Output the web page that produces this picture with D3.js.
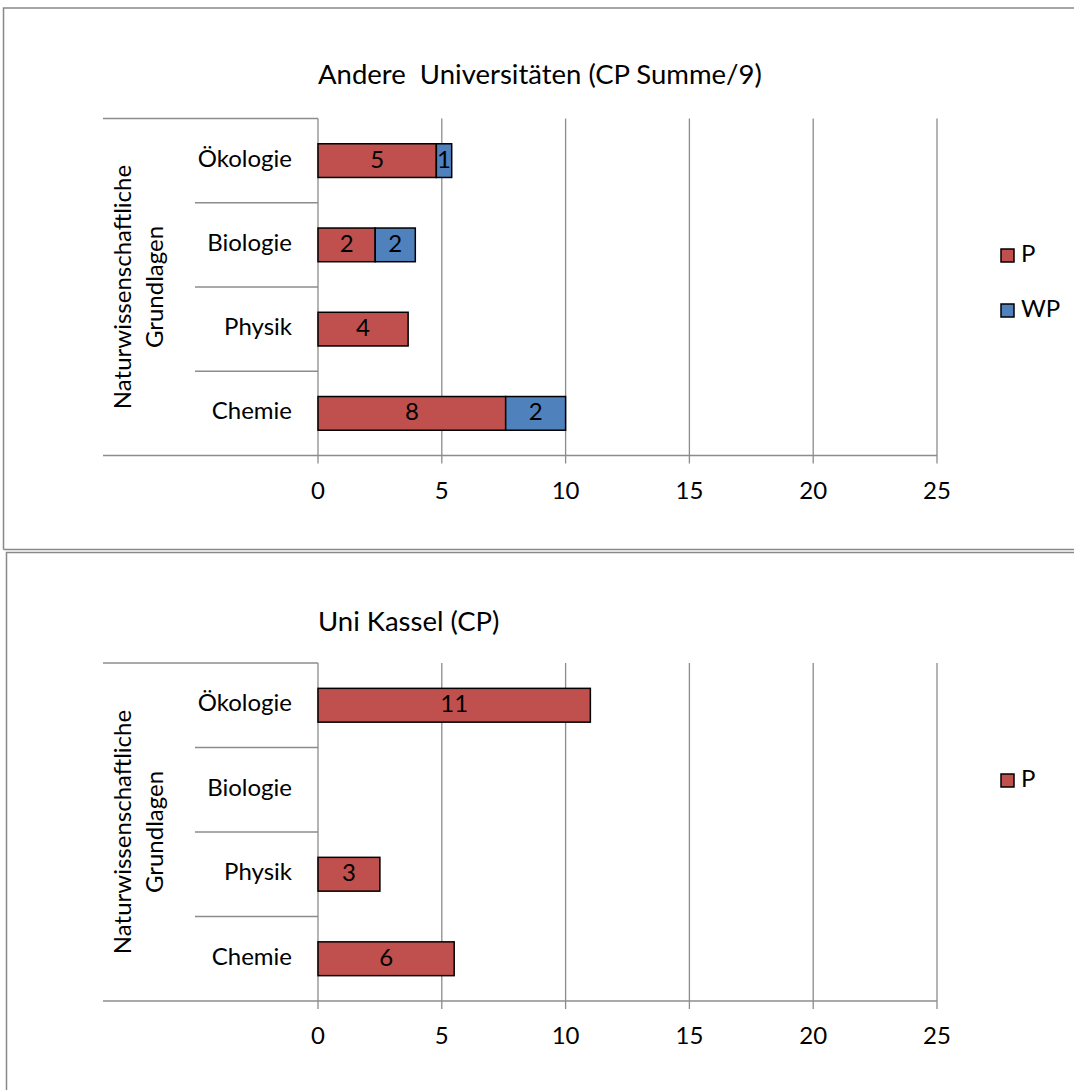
<!DOCTYPE html>
<html>
<head>
<meta charset="utf-8">
<script src="https://cdn.jsdelivr.net/npm/d3@7"></script>
<style>
  body { margin: 0; background: #fff; }
  svg { display: block; font-family: Lato, "Open Sans", sans-serif; }
  text { white-space: pre; }
</style>
</head>
<body>
<svg id="chart" width="1074" height="1090"></svg>
<script>
// Categories, bottom to top as listed on the axis
const categories = ["Chemie", "Physik", "Biologie", "Ökologie"];
const groupLabel = ["Naturwissenschaftliche", "Grundlagen"];

// Chart 1: other universities, credit points summed and divided by 9
const otherTitle = "Andere  Universitäten (CP Summe/9)";
const otherP  = [7.58, 3.64, 2.31, 4.78];
const otherWP = [2.42, 0, 1.62, 0.62];

// Chart 2: Uni Kassel, credit points
const kasselTitle = "Uni Kassel (CP)";
const kasselP = [5.5, 2.5, 0, 11];

const xTicks = [0, 5, 10, 15, 20, 25];
const seriesNames = ["P", "WP"];
const seriesColors = { P: "#c0504d", WP: "#4f81bd" };

const svg = d3.select("#chart");
const gridColor = "#8c8c8c";
const labelSize = 24;
const titleSize = 27.5;

function drawChart(cfg) {
  const g = svg.append("g");
  // frame
  g.append("path")
    .attr("d", `M${cfg.frameX},${cfg.frameBottom} V${cfg.frameTop} H1080`)
    .attr("fill", "none").attr("stroke", "#888").attr("stroke-width", 1.5);
  if (cfg.frameClose) {
    g.append("line").attr("x1", cfg.frameX).attr("x2", 1080)
      .attr("y1", cfg.frameBottom).attr("y2", cfg.frameBottom)
      .attr("stroke", "#888").attr("stroke-width", 1.5);
  }

  const x = d3.scaleLinear().domain([0, 25]).range([318, 937]);
  const y = d3.scaleBand().domain(categories.slice().reverse())
    .range([cfg.top, cfg.bottom]).paddingInner(0).paddingOuter(0);

  // vertical grid lines with tick marks below the axis
  g.append("g").selectAll("line").data(xTicks.filter(t => t > 0)).join("line")
    .attr("x1", d => x(d)).attr("x2", d => x(d))
    .attr("y1", cfg.top).attr("y2", cfg.bottom + 8)
    .attr("stroke", gridColor).attr("stroke-width", 1.3);

  // x axis line extended to the left under the labels
  g.append("line").attr("x1", 103).attr("x2", x(25))
    .attr("y1", cfg.bottom).attr("y2", cfg.bottom)
    .attr("stroke", gridColor).attr("stroke-width", 1.3);
  g.append("line").attr("x1", 103).attr("x2", x(0))
    .attr("y1", cfg.top).attr("y2", cfg.top)
    .attr("stroke", gridColor).attr("stroke-width", 1.3);
  // category separators
  g.append("g").selectAll("line").data(categories.slice(0, 3)).join("line")
    .attr("x1", 195).attr("x2", x(0))
    .attr("y1", d => y(d)).attr("y2", d => y(d))
    .attr("stroke", gridColor).attr("stroke-width", 1.3);
  // y axis line
  g.append("line").attr("x1", x(0)).attr("x2", x(0))
    .attr("y1", cfg.top).attr("y2", cfg.bottom + 8)
    .attr("stroke", gridColor).attr("stroke-width", 1.3);

  // tick labels
  g.append("g").selectAll("text").data(xTicks).join("text")
    .attr("x", d => x(d)).attr("y", cfg.bottom + 37)
    .attr("text-anchor", "middle").attr("dominant-baseline", "middle")
    .attr("font-size", labelSize).attr("fill", "#000").text(d => d);

  // category labels
  g.append("g").selectAll("text").data(categories).join("text")
    .attr("x", 292).attr("y", d => y(d) + y.bandwidth() / 2)
    .attr("text-anchor", "end").attr("dominant-baseline", "middle")
    .attr("font-size", labelSize).attr("fill", "#000").text(d => d);

  // group label, rotated
  const cy = (cfg.top + cfg.bottom) / 2;
  const gl = g.append("text").attr("transform", `translate(138,${cy}) rotate(-90)`)
    .attr("text-anchor", "middle").attr("font-size", labelSize).attr("fill", "#000");
  gl.append("tspan").attr("x", 0).attr("y", -7).text(groupLabel[0]);
  gl.append("tspan").attr("x", 0).attr("y", 25).text(groupLabel[1]);

  // title
  g.append("text").attr("x", 318).attr("y", cfg.titleY)
    .attr("font-size", titleSize).attr("fill", "#000").text(cfg.title);

  // stacked bars
  const barH = y.bandwidth() * 0.4;
  const stacked = d3.stack().keys(cfg.keys)(
    categories.map((c, i) => {
      const row = { cat: c };
      cfg.keys.forEach(k => row[k] = cfg.values[k][i]);
      return row;
    })
  );
  stacked.forEach(layer => {
    const key = layer.key;
    const lg = g.append("g");
    const items = layer.filter(d => d[1] - d[0] > 0);
    lg.selectAll("rect").data(items).join("rect")
      .attr("x", d => x(d[0])).attr("width", d => x(d[1]) - x(d[0]))
      .attr("y", d => y(d.data.cat) + (y.bandwidth() - barH) / 2)
      .attr("height", barH)
      .attr("fill", seriesColors[key]).attr("stroke", "#000").attr("stroke-width", 1.5);
    lg.selectAll("text").data(items).join("text")
      .attr("x", d => (x(d[0]) + x(d[1])) / 2)
      .attr("y", d => y(d.data.cat) + y.bandwidth() / 2 + 1)
      .attr("text-anchor", "middle").attr("dominant-baseline", "middle")
      .attr("font-size", labelSize).attr("fill", "#000")
      .text(d => Math.round(d[1] - d[0]));
  });

  // legend
  const lgd = g.append("g");
  cfg.keys.forEach((k, i) => {
    const ly = cfg.legendY + i * 55;
    lgd.append("rect").attr("x", 1001).attr("y", ly - 7).attr("width", 13).attr("height", 13)
      .attr("fill", seriesColors[k]).attr("stroke", "#000").attr("stroke-width", 1.5);
    lgd.append("text").attr("x", 1021).attr("y", ly).attr("dominant-baseline", "middle")
      .attr("font-size", labelSize).attr("fill", "#000").text(k);
  });
}

drawChart({
  title: otherTitle, titleY: 84,
  frameX: 3.5, frameTop: 8, frameBottom: 549.5, frameClose: true,
  top: 118.5, bottom: 455.5,
  keys: seriesNames, values: { P: otherP, WP: otherWP },
  legendY: 256
});

drawChart({
  title: kasselTitle, titleY: 631,
  frameX: 6.5, frameTop: 552.5, frameBottom: 1095, frameClose: false,
  top: 663, bottom: 1001,
  keys: ["P"], values: { P: kasselP },
  legendY: 781
});
</script>
</body>
</html>
